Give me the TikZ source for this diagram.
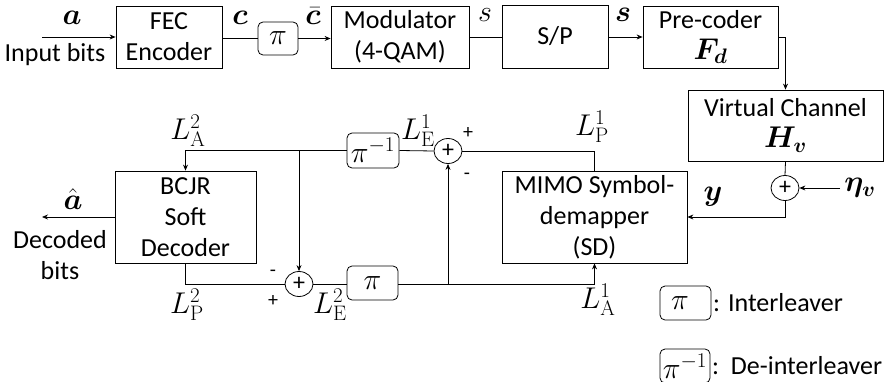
\RequirePackage{fix-cm}
\documentclass[tikz,border=0pt]{standalone}
\usepackage{amsmath,bm}
\usepackage[no-math]{fontspec}
\setmainfont{Carlito}
\usetikzlibrary{arrows.meta,shapes.geometric}
\tikzset{
  blk/.style={draw, line width=0.8pt, align=center, inner sep=0pt, font=\fontsize{26}{31}\selectfont},
  ileave/.style={draw, line width=0.8pt, rounded corners=5pt, inner sep=0pt, font=\fontsize{30}{34}\selectfont},
  summ/.style={draw, ellipse, line width=0.8pt, minimum width=28pt, minimum height=25pt, inner sep=0pt, font=\fontsize{24}{24}\selectfont},
  conn/.style={line width=0.8pt},
  arr/.style={line width=0.8pt, -{Stealth[length=6pt,width=5pt]}},
  lbl/.style={inner sep=0pt, font=\fontsize{26}{31}\selectfont, align=center},
  mlbl/.style={inner sep=0pt, font=\fontsize{30}{34}\selectfont},
  sgn/.style={inner sep=0pt, font=\fontsize{20}{24}\selectfont}
}
\begin{document}
\begin{tikzpicture}[x=1pt,y=-1pt]
\useasboundingbox (0,0) rectangle (890,382);
% top chain
\node[blk, minimum width=106pt, minimum height=62pt] (fec) at (169,37) {FEC\\Encoder};
\node[ileave, minimum width=40pt, minimum height=33pt] (pia) at (278,38.5) {$\pi$};
\node[blk, minimum width=138pt, minimum height=62pt] (mod) at (400,37) {Modulator\\(4-QAM)};
\node[blk, minimum width=106pt, minimum height=63pt] (sp) at (555,36.5) {S/P};
\node[blk, minimum width=135pt, minimum height=62pt] (pre) at (710.5,37) {Pre-coder\\{\fontsize{30}{30}\selectfont$\bm{F_d}$}};
\node[blk, minimum width=195pt, minimum height=71pt] (vc) at (785.5,125.5) {Virtual Channel\\{\fontsize{30}{30}\selectfont$\bm{H_v}$}};
\node[summ] (s1) at (785,188) {+};
\node[blk, minimum width=185pt, minimum height=92pt] (sd) at (594.5,217) {MIMO Symbol-\\demapper\\(SD)};
\node[blk, minimum width=141pt, minimum height=92pt] (bcjr) at (185.5,217) {BCJR\\Soft\\Decoder};
\node[ileave, minimum width=52pt, minimum height=35pt] (pib) at (373,150.5) {$\pi^{-1}$};
\node[summ] (su) at (448,151) {+};
\node[summ] (sl) at (299,284) {+};
\node[ileave, minimum width=51pt, minimum height=34pt] (pic) at (372.5,283) {$\pi$};
% legend
\node[ileave, minimum width=51pt, minimum height=34pt, text width=45pt, align=left] (lg1) at (685.5,303) {\hspace{8pt}$\pi$};
\node[lbl, anchor=west] (lg1t) at (713,303) {: Interleaver};
\node[ileave, minimum width=50pt, minimum height=34pt] (lg2) at (685,366) {$\pi^{-1}$};
\node[lbl, anchor=west] (lg2t) at (712,366) {:\ \ De-interleaver};
% coordinates
\coordinate (inp) at (42,37);
\coordinate (eta) at (840,188);
\coordinate (ahat) at (42,217);
\coordinate (br1) at (299,151);
\coordinate (br2) at (448,284);
% connectors
\draw[arr] (inp) -- (fec.west);
\draw[conn] (fec.east |- pia.west) -- (pia.west);
\draw[arr] (pia.east) -- (mod.west |- pia.east);
\draw[conn] (mod.east) -- (sp.west |- mod.east);
\draw[arr] (sp.east |- pre.west) -- (pre.west);
\draw[arr] (pre.east) -| (vc.north);
\draw[conn] (vc.south) -- (s1.north);
\draw[arr] (eta) -- (s1.east);
\draw[arr] (s1.south) |- (sd.east);
\draw[conn] (sd.north) |- (su.east);
\draw[conn] (pib.east) -- (su.west);
\draw[arr] (pib.west) -| (bcjr.north);
\draw[arr] (br1) -- (sl.north);
\draw[arr] (bcjr.west) -- (ahat);
\draw[conn] (bcjr.south) |- (sl.west);
\draw[conn] (sl.east) -- (pic.west |- sl.east);
\draw[arr] (pic.east |- sl.east) -| (sd.south);
\draw[arr] (br2) -- (su.south);
% labels
\node[mlbl] (la) at (72,18) {$\bm{a}$};
\node[lbl] (lin) at (55,55) {Input bits};
\node[mlbl] (lc) at (240,18) {$\bm{c}$};
\node[mlbl] (lcb) at (313,16) {$\bar{\bm{c}}$};
\node[mlbl] (ls) at (485,15) {$s$};
\node[mlbl] (lsb) at (623,15) {$\bm{s}$};
\node[mlbl] (lla2) at (188,131) {$L_{\mathrm{A}}^{2}$};
\node[mlbl] (lle1) at (418,131) {$L_{\mathrm{E}}^{1}$};
\node[mlbl] (llp1) at (592,127) {$L_{\mathrm{P}}^{1}$};
\node[sgn] (pl1) at (468,133) {+};
\node[sgn] (mi1) at (467,176) {-};
\node[mlbl] (leta) at (860,188) {$\bm{\eta_v}$};
\node[mlbl] (ly) at (713,197) {$\bm{y}$};
\node[mlbl] (lah) at (73,199) {$\hat{\bm{a}}$};
\node[lbl] (ldec) at (60,255) {Decoded\\bits};
\node[sgn] (mi2) at (273,273) {-};
\node[sgn] (pl2) at (273,301) {+};
\node[mlbl] (llp2) at (187,305) {$L_{\mathrm{P}}^{2}$};
\node[mlbl] (lle2) at (330,305) {$L_{\mathrm{E}}^{2}$};
\node[mlbl] (lla1) at (598,300) {$L_{\mathrm{A}}^{1}$};
\end{tikzpicture}
\end{document}
